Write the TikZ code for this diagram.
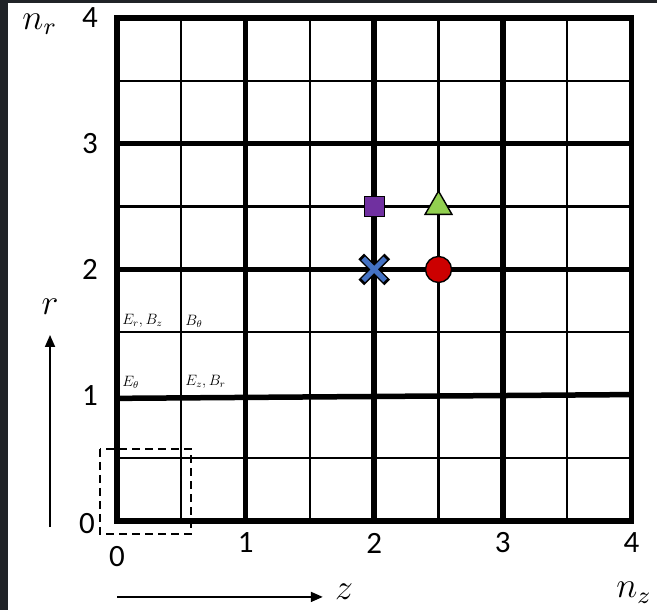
\documentclass[tikz,border=0pt]{standalone}
\usepackage{fontspec}
\setmainfont{Carlito}
\usetikzlibrary{arrows.meta,shapes.geometric,shapes.misc}
\definecolor{mkpurple}{HTML}{7030A0}
\definecolor{mkgreen}{HTML}{92D050}
\definecolor{mkblue}{HTML}{4472C4}
\definecolor{mkred}{RGB}{204,0,0}
\definecolor{frmgray}{RGB}{32,35,39}
\newcommand{\biglbl}[1]{\scalebox{3.0}{$#1$}}
\newcommand{\fldlbl}[1]{\scalebox{1.25}{$#1$}}
\tikzset{
  thn/.style={line width=2.2pt},
  thk/.style={line width=5.5pt},
  num/.style={font=\fontsize{31}{33}\selectfont,inner sep=0pt},
  mlb/.style={font=\fontsize{12}{14}\selectfont,inner sep=0pt},
  fld/.style={font=\fontsize{12}{14}\selectfont,inner sep=0pt,anchor=west},
  ar/.style={-{Triangle[length=12pt,width=10pt]},line width=1.8pt},
  dsh/.style={line width=2pt,dash pattern=on 8pt off 5pt},
  mk/.style={draw=black,line width=1.4pt,inner sep=0pt},
}
\begin{document}
\begin{tikzpicture}[x=128.6pt,y=125.75pt]
  \useasboundingbox (-0.91,-0.708) rectangle (4.199,4.143);
  % screenshot frame
  \fill[frmgray] (-0.91,-0.708) rectangle (-0.848,4.143);
  \fill[frmgray] (-0.91,4.119) rectangle (4.199,4.143);
  % half-cell grid
  \foreach \k in {0.5,1.5,2.5,3.5}{
    \draw[thn] (\k,0) -- (\k,4);
    \draw[thn] (0,\k) -- (4,\k);
  }
  % unit lines
  \foreach \k in {1,2,3} \draw[thk] (\k,0) -- (\k,4);
  \foreach \k in {2,3} \draw[thk] (0,\k) -- (4,\k);
  \draw[thk] (0,0.975) -- (4,1.005);
  \draw[thk] (0,0) rectangle (4,4);
  % cell at the origin
  \draw[dsh] (-0.132,0.573) rectangle (0.575,-0.103);

  % tick numbers
  \foreach \k in {1,2,3,4}{
    \node[num] (nr\k) at (-0.21,\k) {\k};
    \node[num] (nz\k) at (\k,-0.175) {\k};
  }
  \node[num] (nr0) at (-0.233,-0.02) {0};
  \node[num] (nz0) at (0,-0.28) {0};
  \node[mlb] (nrlbl) at (-0.6,3.95) {\biglbl{n_r}};
  \node[mlb] (nzlbl) at (4.02,-0.57) {\biglbl{n_z}};

  % field components
  \node[fld] (erbz) at (0.04,1.59) {\fldlbl{E_r, B_z}};
  \node[fld] (bth) at (0.53,1.59) {\fldlbl{B_\theta}};
  \node[fld] (eth) at (0.04,1.105) {\fldlbl{E_\theta}};
  \node[fld] (ezbr) at (0.53,1.105) {\fldlbl{E_z, B_r}};

  % markers
  \node[mk,rectangle,fill=mkpurple,minimum size=20pt] (sq) at (2,2.5) {};
  \node[mk,regular polygon,regular polygon sides=3,fill=mkgreen,minimum size=31pt] (tri) at (2.5,2.5) {};
  \node[mk,circle,fill=mkred,minimum size=26pt] (dotc) at (2.5,2) {};
  \node[cross out,draw=black,line width=8pt,minimum size=18pt,inner sep=0pt] (crs) at (2,2) {};
  \node[cross out,draw=mkblue,line width=5pt,minimum size=17pt,inner sep=0pt] (crsin) at (crs) {};

  % axis arrows
  \coordinate (z0) at (0,-0.604);
  \coordinate (z1) at (1.6,-0.604);
  \draw[ar] (z0) -- (z1);
  \node[mlb] (zlbl) at (1.765,-0.565) {\biglbl{z}};
  \coordinate (r0) at (-0.521,-0.048);
  \coordinate (r1) at (-0.521,1.479);
  \draw[ar] (r0) -- (r1);
  \node[mlb] (rlbl) at (-0.521,1.70) {\biglbl{r}};
\end{tikzpicture}
\end{document}
